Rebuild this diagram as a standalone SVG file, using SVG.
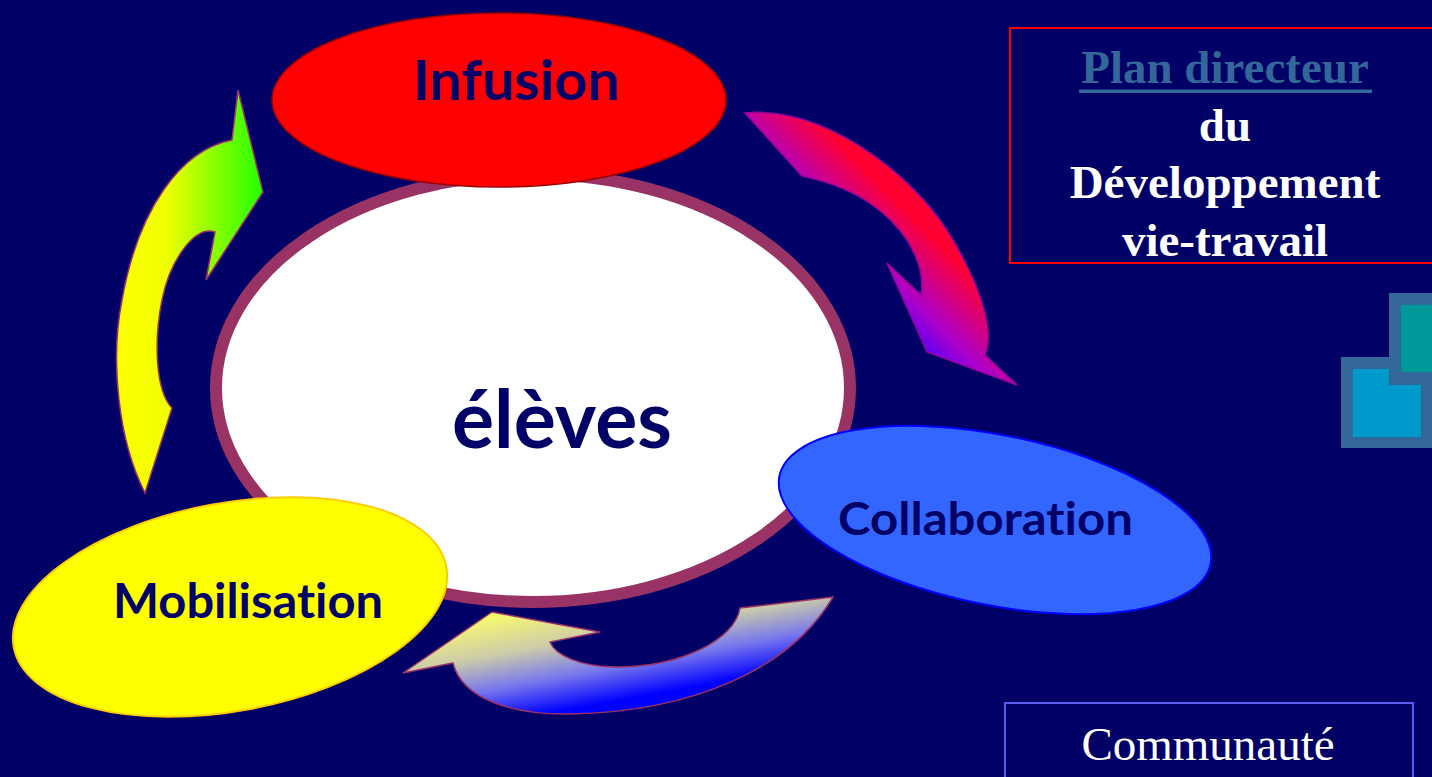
<svg xmlns="http://www.w3.org/2000/svg" width="1432" height="777" viewBox="0 0 1432 777">
<style>
.lbl{font-family:Lato,"Open Sans","DejaVu Sans",sans-serif;font-weight:bold;fill:#000066;font-variant-ligatures:none;font-feature-settings:"liga" 0,"clig" 0}
.ser{font-family:"Liberation Serif","Times New Roman",serif;text-anchor:middle}
.arr{stroke:#993366;stroke-width:1.5;stroke-linejoin:miter}
</style>
<defs>
<linearGradient id="gLeft" gradientUnits="userSpaceOnUse" x1="115" y1="300" x2="263" y2="300">
<stop offset="0" stop-color="#ffff00"/>
<stop offset="0.35" stop-color="#f0ff00"/>
<stop offset="1" stop-color="#22ff00"/>
</linearGradient>
<linearGradient id="gRight" gradientUnits="userSpaceOnUse" x1="915" y1="355" x2="1000" y2="270">
<stop offset="0" stop-color="#4400ff"/>
<stop offset="0.3" stop-color="#aa00cc"/>
<stop offset="0.8" stop-color="#ff0033"/>
<stop offset="1" stop-color="#ff0033"/>
</linearGradient>
<linearGradient id="gBottom" gradientUnits="userSpaceOnUse" x1="520" y1="605" x2="540" y2="715">
<stop offset="0" stop-color="#ffff66"/>
<stop offset="0.4" stop-color="#ccccaa"/>
<stop offset="0.7" stop-color="#7777ee"/>
<stop offset="1" stop-color="#0000ff"/>
</linearGradient>
</defs>
<rect x="0" y="0" width="1432" height="777" fill="#000066"/>

<g id="connectors">
<path id="arrow-mobilisation-infusion" class="arr" fill="url(#gLeft)" d="M145,493 C118,440 110,360 122,300 C138,210 180,150 232,140 L238,90 L263,192 L206,280 L215,232 C195,225 170,260 162,300 C154,340 155,390 172,408 Z"/>
<path id="arrow-infusion-collaboration" fill="url(#gRight)" stroke="#990099" stroke-width="1.5" d="M745,113 C820,105 910,170 950,235 C980,285 995,330 985,355 L1017,385 L927,352 L887,263 L921,295 C928,260 895,195 802,176 Z"/>
<path id="arrow-collaboration-mobilisation" class="arr" fill="url(#gBottom)" d="M833,597 L740,608 C735,640 680,667 617,667 C580,667 555,655 550,642 L600,632 L492,612 L403,673 L453,663 C462,700 515,715 570,714 C690,712 790,670 833,597 Z"/>
</g>

<g id="eleves">
<ellipse cx="533" cy="388" rx="317" ry="214" fill="#ffffff" stroke="#993366" stroke-width="12"/>
<text class="lbl" x="452" y="448" font-size="80" textLength="220" lengthAdjust="spacingAndGlyphs">élèves</text>
</g>

<g id="infusion">
<ellipse cx="499" cy="100" rx="227" ry="87" fill="#ff0000" stroke="#990000" stroke-width="1.5"/>
<text class="lbl" x="413" y="100" font-size="56" textLength="207" lengthAdjust="spacingAndGlyphs">Infusion</text>
</g>

<g id="collaboration">
<ellipse cx="995" cy="520" rx="220" ry="85" transform="rotate(11.5 995 520)" fill="#3366ff" stroke="#0000ff" stroke-width="2"/>
<text class="lbl" x="838" y="535" font-size="46" textLength="295" lengthAdjust="spacingAndGlyphs">Collaboration</text>
</g>

<g id="mobilisation">
<ellipse cx="230" cy="607" rx="220" ry="104" transform="rotate(-10.5 230 607)" fill="#ffff00" stroke="#ffcc00" stroke-width="2"/>
<text class="lbl" x="113" y="618" font-size="47" textLength="270" lengthAdjust="spacingAndGlyphs">Mobilisation</text>
</g>

<g id="plan-directeur">
<rect x="1010" y="28" width="430" height="235" fill="none" stroke="#ff0000" stroke-width="2"/>
<text class="ser" x="1225" y="83" font-size="47" font-weight="bold" fill="#336699">Plan directeur</text>
<rect x="1079" y="89.5" width="293" height="3.5" fill="#336699"/>
<text class="ser" x="1225" y="141" font-size="47" font-weight="bold" fill="#ffffff">du</text>
<text class="ser" x="1225" y="198" font-size="47" font-weight="bold" fill="#ffffff">Développement</text>
<text class="ser" x="1225" y="256" font-size="47" font-weight="bold" fill="#ffffff">vie-travail</text>
</g>

<g id="squares">
<rect x="1341" y="357" width="91" height="91" fill="#336699"/>
<rect x="1353" y="369" width="68" height="68" fill="#0099cc"/>
<rect x="1389" y="293" width="92" height="92" fill="#336699"/>
<rect x="1401" y="305" width="68" height="67" fill="#009999"/>
</g>

<g id="communaute">
<rect x="1005" y="703" width="408" height="90" fill="none" stroke="#5a5af0" stroke-width="2"/>
<text class="ser" x="1208" y="760" font-size="47" fill="#ffffff">Communauté</text>
</g>
</svg>
